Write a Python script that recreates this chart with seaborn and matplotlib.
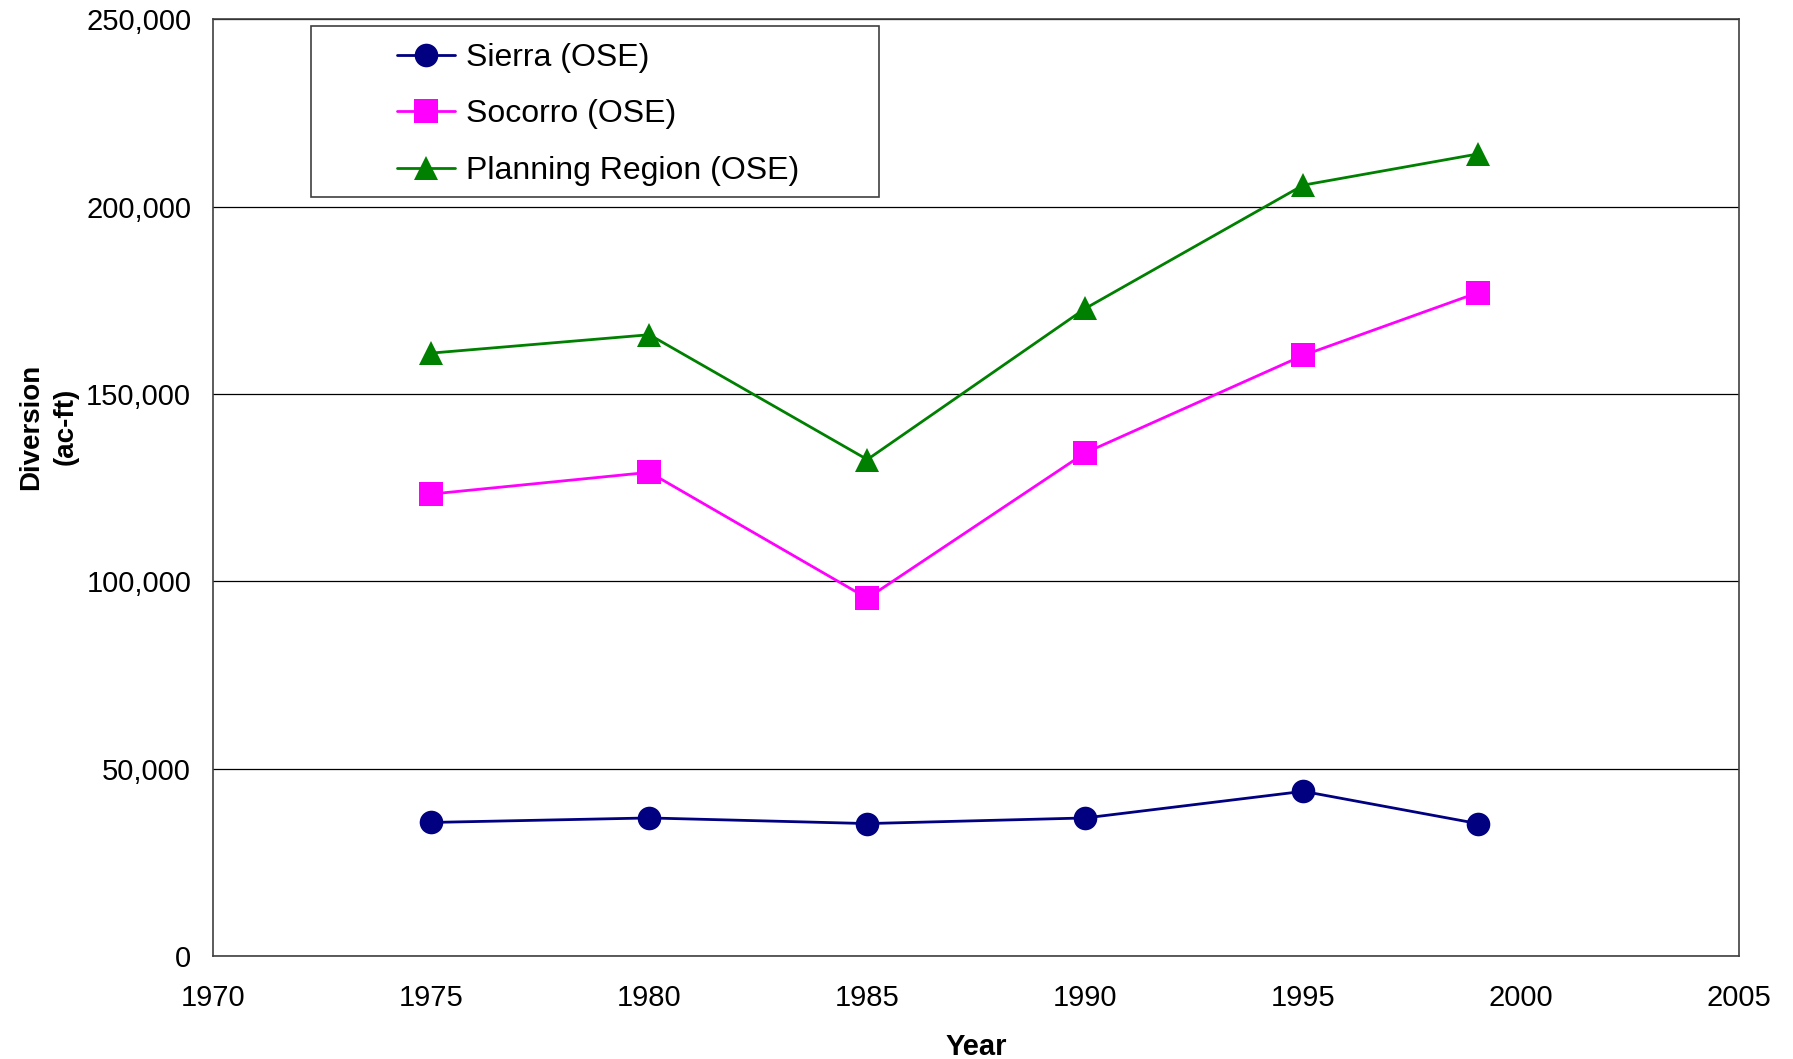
import pandas as pd
import numpy as np
import seaborn as sns
import matplotlib.pyplot as plt
from matplotlib.patches import Rectangle
from matplotlib.ticker import FuncFormatter

sns.set_style('white')
plt.rcParams['font.family'] = ['Liberation Sans', 'DejaVu Sans']
plt.rcParams['text.color'] = 'black'
plt.rcParams['axes.labelcolor'] = 'black'
plt.rcParams['xtick.color'] = 'black'
plt.rcParams['ytick.color'] = 'black'

# Dados
years = [1975, 1980, 1985, 1990, 1995, 1999]
sierra = [35700, 36900, 35400, 36900, 44000, 35400]
socorro = [123300, 129100, 95500, 134300, 160300, 177000]
planning = [160900, 165800, 132500, 172800, 205700, 214000]
series = ['Sierra (OSE)', 'Socorro (OSE)', 'Planning Region (OSE)']
colors = ['#000080', '#FF00FF', '#008000']
markers = ['o', 's', '^']

df = pd.DataFrame({
    'Year': years * 3,
    'Diversion': sierra + socorro + planning,
    'Series': [series[0]] * 6 + [series[1]] * 6 + [series[2]] * 6,
})

fig = plt.figure(figsize=(17.93, 10.59), dpi=100)
ax = fig.add_axes([0.119, 0.097, 0.851, 0.885])

sns.lineplot(data=df, x='Year', y='Diversion', hue='Series', style='Series',
             hue_order=series, style_order=series, palette=colors,
             markers=markers, dashes=False, markersize=17, linewidth=2,
             markeredgewidth=0, ax=ax, legend='brief')

ax.set_xlim(1970, 2005)
ax.set_ylim(0, 250000)
ax.set_xticks(range(1970, 2006, 5))
ax.set_yticks(range(0, 250001, 50000))
ax.yaxis.set_major_formatter(FuncFormatter(lambda v, p: f'{int(v):,}'))
ax.yaxis.grid(True, color='black', linewidth=0.9)
ax.xaxis.grid(False)
for s in ax.spines.values():
    s.set_color('#404040')
    s.set_linewidth(1.2)
ax.tick_params(axis='both', direction='out', length=8, width=1, color='#404040',
               labelsize=21, pad=8, labelcolor='black')
ax.tick_params(axis='x', pad=12)

ax.set_xlabel('Year', fontsize=21, fontweight='bold', labelpad=15)
ax.set_ylabel('Diversion\n(ac-ft)', fontsize=20, fontweight='bold', labelpad=5,
              linespacing=1.45, y=0.565)

# Legenda
ax.add_patch(Rectangle((0.064, 0.81), 0.372, 0.1825, transform=ax.transAxes,
                       facecolor='white', edgecolor='#404040', linewidth=1.2, zorder=4))
leg = ax.legend(loc='upper left', bbox_to_anchor=(0.1205, 0.9745), frameon=False,
                fontsize=23, borderpad=0, borderaxespad=0, handlelength=1.8,
                handletextpad=0.35, labelspacing=0.83)
leg.set_zorder(5)
for t in leg.get_texts():
    t.set_color('black')

fig.savefig('out.png', dpi=100)
